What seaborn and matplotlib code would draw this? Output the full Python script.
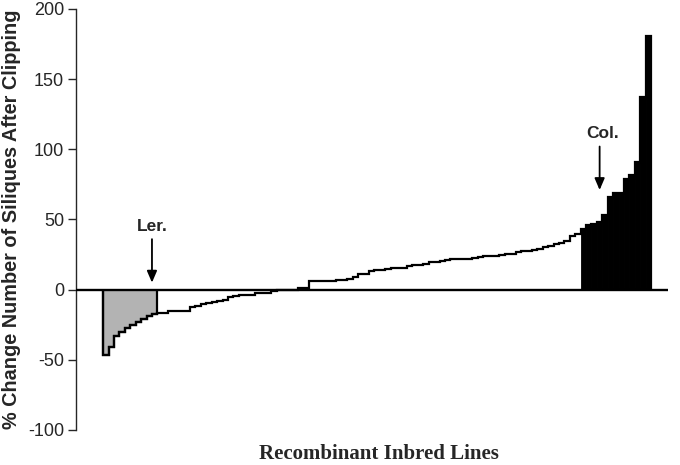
import numpy as np
import pandas as pd
import matplotlib
matplotlib.use("Agg")
import matplotlib.pyplot as plt
import seaborn as sns

# ---- data ----
ler_group = [-46.5, -41, -33, -30, -27, -25, -23, -21, -19, -17.5]
middle_group = [-16.5, -16.5, -15.5, -15.5, -15.5, -15.5, -12, -11.5, -10, -9.5,
                -8.5, -8, -7.5, -5, -4.7, -3.8, -3.6, -3.6, -2.5, -2.4,
                -2.4, -1.2, -0.5, -0.3, 0, 0, 1.2, 1.2, 6, 6,
                6.3, 6.5, 6.5, 6.8, 7, 7.5, 8.8, 11, 11, 13.5,
                13.8, 14, 15, 15.4, 15.4, 15.6, 17, 17.5, 17.8, 18,
                19.5, 19.5, 20.2, 21, 21.5, 21.9, 21.9, 22, 22.5, 23.5,
                24, 24.2, 24.2, 25, 25.5, 25.7, 27, 27.5, 27.8, 28.5,
                29, 30.5, 30.9, 32.5, 33, 34.4, 38, 40]
col_group = [43, 46, 47, 48, 53, 66, 69, 69, 79, 82, 91, 137, 181]
y_ticks = [-100, -50, 0, 50, 100, 150, 200]
ler_label = "Ler."
col_label = "Col."
x_title = "Recombinant Inbred Lines"
y_title = "% Change Number of Siliques After Clipping"

values = ler_group + middle_group + col_group
groups = (["Ler"] * len(ler_group) + ["mid"] * len(middle_group)
          + ["Col"] * len(col_group))
df = pd.DataFrame({"line": np.arange(len(values)), "value": values, "group": groups})

sns.set_style("ticks")
plt.rcParams["font.family"] = ["Liberation Sans", "DejaVu Sans"]

fig = plt.figure(figsize=(6.8, 4.65), dpi=100)
ax = fig.add_axes([76 / 680, 1 - 430 / 465, (668 - 76) / 680, (430 - 9) / 465])

sns.barplot(data=df, x="line", y="value", hue="group",
            palette={"Ler": "#b3b3b3", "mid": "white", "Col": "black"},
            width=1.0, dodge=False, legend=False, ax=ax, linewidth=0,
            errorbar=None)
for p in ax.patches:
    p.set_edgecolor(p.get_facecolor())
    p.set_linewidth(0.6)

n = len(values)
edges = np.arange(n + 1) - 0.5
ax.stairs(values, edges, baseline=0, color="black", lw=1.6, zorder=3)
nl = len(ler_group)
ax.stairs(ler_group, edges[:nl + 1], baseline=0, color="black", lw=1.6, zorder=3)
ax.axhline(0, color="black", lw=1.7, zorder=4)

ax.set_xlim(-5.5, n - 0.5 + 3.1)
ax.set_ylim(-100, 200)
ax.set_yticks(y_ticks)
ax.set_yticklabels([str(t) for t in y_ticks], fontsize=13)
ax.set_xticks([])
sns.despine(ax=ax, top=True, right=True, bottom=True)
ax.spines["left"].set_linewidth(1.0)
ax.tick_params(axis="y", length=5.5, width=1.0, direction="out", pad=3)

ax.set_ylabel(y_title, fontsize=14.3, fontweight="bold", labelpad=5)
ax.set_xlabel(x_title, fontsize=15, fontweight="bold",
              family=["Liberation Serif", "DejaVu Serif"], labelpad=10)
ax.xaxis.label.set_position(((379 - 76) / (668 - 76), 0))

arrow = dict(arrowstyle="-|>,head_length=0.7,head_width=0.3", lw=1.3, color="black",
             shrinkA=0, shrinkB=0)
ax.annotate("", xy=(8.5, 5), xytext=(8.5, 36), arrowprops=arrow, zorder=5)
ax.text(8.5, 40, ler_label, ha="center", va="bottom", fontsize=12.5, fontweight="bold")
ax.annotate("", xy=(91.0, 71), xytext=(91.0, 102), arrowprops=arrow, zorder=5)
ax.text(91.5, 106, col_label, ha="center", va="bottom", fontsize=12.5, fontweight="bold")

fig.savefig("out.png", dpi=100)
